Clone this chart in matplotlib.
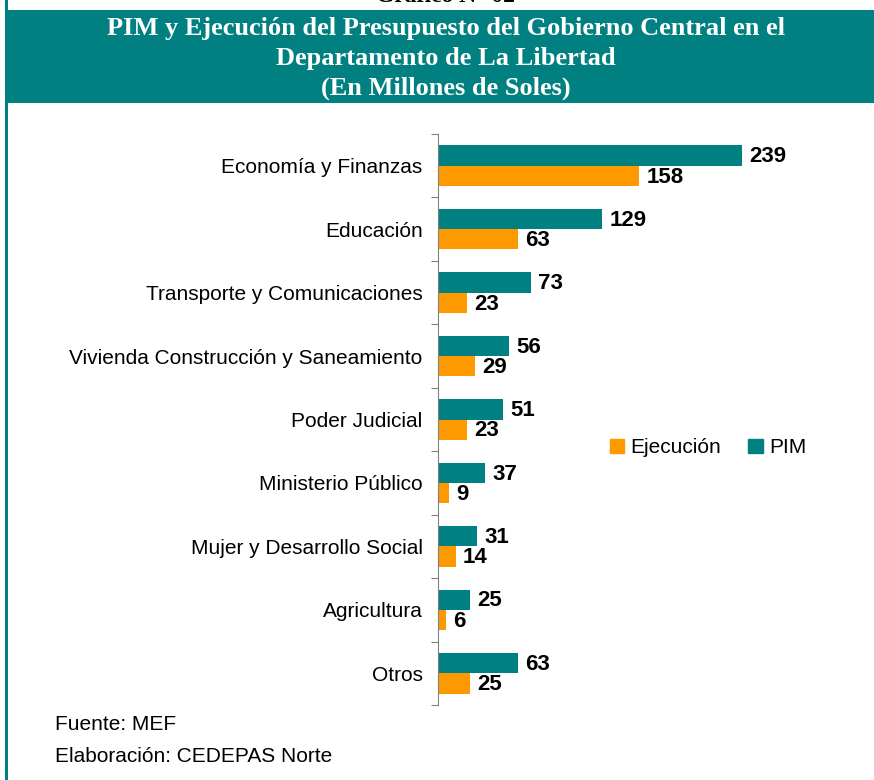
import numpy as np
import matplotlib
matplotlib.use('Agg')
import matplotlib.pyplot as plt
from matplotlib.patches import Rectangle, Patch

categorias = ['Economía y Finanzas', 'Educación', 'Transporte y Comunicaciones',
              'Vivienda Construcción y Saneamiento', 'Poder Judicial',
              'Ministerio Público', 'Mujer y Desarrollo Social', 'Agricultura', 'Otros']
pim = [239, 129, 73, 56, 51, 37, 31, 25, 63]
ejecucion = [158, 63, 23, 29, 23, 9, 14, 6, 25]

teal = '#008080'
naranja = '#FF9900'

plt.rcParams['font.family'] = ['Liberation Sans', 'DejaVu Sans']

fig = plt.figure(figsize=(8.74, 7.8), dpi=100)

# cabecera
fig.patches.append(Rectangle((5/874, 1-103/780), 1, 93/780, transform=fig.transFigure,
                             facecolor=teal, edgecolor='none', zorder=0))
fig.patches.append(Rectangle((5/874, 0), 3/874, 1, transform=fig.transFigure,
                             facecolor=teal, edgecolor='none', zorder=0))
fig.text(0.51, 1.004, 'Gráfico N° 02', ha='center', va='center', fontsize=17,
         fontweight='bold', family='Liberation Serif')
titulo = ['PIM y Ejecución del Presupuesto del Gobierno Central en el',
          'Departamento de La Libertad', '(En Millones de Soles)']
for i, t in enumerate(titulo):
    fig.text(0.51, 1-(28+30*i)/780, t, ha='center', va='center', fontsize=19,
             fontweight='bold', color='white', family='Liberation Serif')

ax = fig.add_axes([438/874, 1-705/780, 382/874, 571/780])
y = np.arange(len(categorias))
h = 0.32
ax.barh(y - h/2, pim, height=h, color=teal, label='PIM')
ax.barh(y + h/2, ejecucion, height=h, color=naranja, label='Ejecución')

for i in range(len(categorias)):
    ax.text(pim[i] + 5.5, y[i] - h/2 + 0.02, str(pim[i]), va='center', ha='left',
            fontsize=16, fontweight='bold')
    ax.text(ejecucion[i] + 5.5, y[i] + h/2 + 0.02, str(ejecucion[i]), va='center', ha='left',
            fontsize=16, fontweight='bold')

ax.set_xlim(0, 300)
ax.set_ylim(len(categorias) - 0.5, -0.5)
ax.set_yticks(np.arange(len(categorias) + 1) - 0.5)
ax.set_yticklabels([])
ax.set_yticks(y, minor=True)
ax.set_yticklabels(categorias, minor=True, fontsize=15)
ax.tick_params(axis='y', which='major', length=5, direction='out', color='#808080')
ax.tick_params(axis='y', which='minor', length=0, pad=11)
ax.set_xticks([])
for s in ['top', 'right', 'bottom']:
    ax.spines[s].set_visible(False)
ax.spines['left'].set_color('#808080')

handles = [Patch(color=naranja, label='Ejecución'), Patch(color=teal, label='PIM')]
fig.legend(handles=handles, loc='center', bbox_to_anchor=(708/874, 1-448/780), ncol=2,
           frameon=False, fontsize=15, handlelength=0.7, handleheight=0.7,
           handletextpad=0.3, columnspacing=1.3)

fig.text(55/874, 1-725/780, 'Fuente: MEF', ha='left', va='center', fontsize=15)
fig.text(55/874, 1-757/780, 'Elaboración: CEDEPAS Norte', ha='left', va='center', fontsize=15)

fig.savefig('out.png', dpi=100)
